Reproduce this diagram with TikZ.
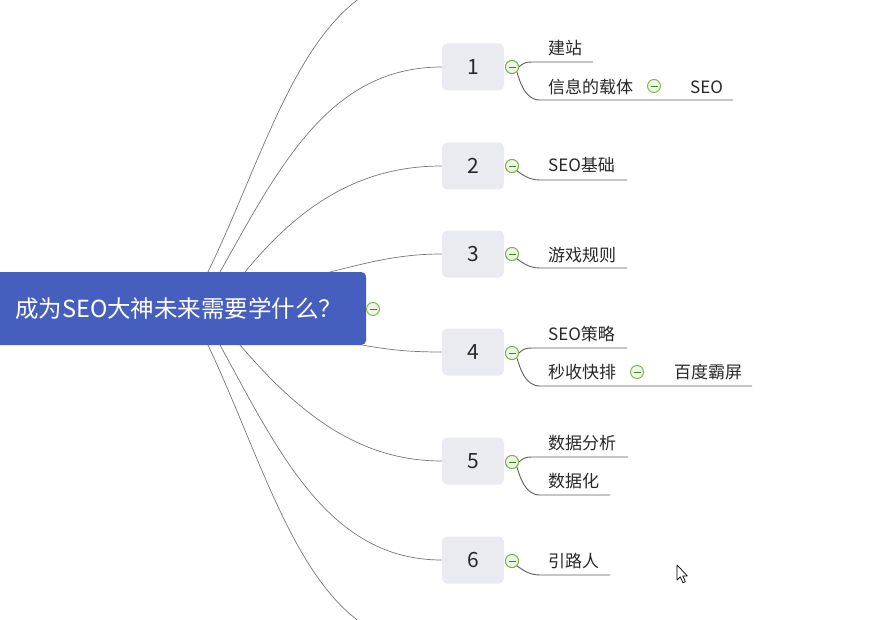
\documentclass[tikz,border=0pt]{standalone}
\usepackage{fontspec}
\setmainfont{Noto Sans CJK SC}
\definecolor{rootblue}{RGB}{70,94,190}
\definecolor{boxgray}{RGB}{234,235,241}
\definecolor{curvegray}{RGB}{120,120,120}
\definecolor{linegray}{RGB}{95,95,95}
\definecolor{togglegreen}{RGB}{120,178,70}
\definecolor{togglefill}{RGB}{238,246,230}
\definecolor{toggledark}{RGB}{70,130,40}
\definecolor{txt}{RGB}{40,40,40}
\begin{document}
\begin{tikzpicture}[x=1pt,y=-1pt,
  rootbox/.style={fill=rootblue,rounded corners=5pt,text=white,font=\fontsize{23.5}{27}\selectfont,
     anchor=west,minimum height=73pt,inner xsep=25pt,text width=326pt,align=left},
  numbox/.style={fill=boxgray,rounded corners=5pt,minimum width=62pt,minimum height=47pt,
     text=txt,font=\fontsize{21}{24}\selectfont},
  leaf/.style={anchor=west,inner sep=0pt,text=txt,font=\fontsize{17}{20}\selectfont},
  toggle/.style={circle,draw=togglegreen,fill=togglefill,line width=0.9pt,minimum size=13pt,inner sep=0pt,
     path picture={\draw[toggledark,line width=0.9pt] ([xshift=-3.5pt]path picture bounding box.center) -- ([xshift=3.5pt]path picture bounding box.center);}},
  mainlink/.style={draw=curvegray,line width=0.7pt},
  sublink/.style={draw=linegray,line width=0.9pt}
]
\useasboundingbox (0,0) rectangle (874,620);
\fill[white] (0,0) rectangle (874,620);

% root
\node[rootbox] (root) at (-10,308.5) {成为SEO大神未来需要学什么？};
\node[toggle] (troot) at (373,309) {};

% number boxes
\node[numbox] (n1) at (473,67) {1};
\node[numbox] (n2) at (473,166) {2};
\node[numbox] (n3) at (473,254) {3};
\node[numbox] (n4) at (473,352) {4};
\node[numbox] (n5) at (473,461) {5};
\node[numbox] (n6) at (473,560) {6};

% root side coordinates
\coordinate (r0) at (208,272);
\coordinate (r1) at (220,272);
\coordinate (r2) at (245,272);
\coordinate (r3) at (330,272);
\coordinate (r4) at (362,345);
\coordinate (r5) at (240,345);
\coordinate (r6) at (220,345);
\coordinate (r7) at (208,345);
\coordinate (topend) at (372,-10);
\coordinate (botend) at (372,630);

\draw[mainlink] (r0) .. controls (262,160) and (295,35) .. (topend);
\draw[mainlink] (r1) .. controls (280,165) and (330,67) .. (n1.west);
\draw[mainlink] (r2) .. controls (300,205) and (360,166) .. (n2.west);
\draw[mainlink] (r3) .. controls (370,262) and (400,254) .. (n3.west);
\draw[mainlink] (r4) .. controls (390,350) and (410,352) .. (n4.west);
\draw[mainlink] (r5) .. controls (300,415) and (360,461) .. (n5.west);
\draw[mainlink] (r6) .. controls (280,455) and (330,560) .. (n6.west);
\draw[mainlink] (r7) .. controls (262,460) and (295,585) .. (botend);

% toggles on number boxes
\node[toggle] (t1) at (512,67) {};
\node[toggle] (t2) at (512,166) {};
\node[toggle] (t3) at (512,254) {};
\node[toggle] (t4) at (512,353) {};
\node[toggle] (t5) at (512,462) {};
\node[toggle] (t6) at (512,561) {};

% leaves
\node[leaf] (a1) at (548,48) {建站};
\node[leaf] (a2) at (548,87) {信息的载体};
\node[toggle] (ta2) at (654,86) {};
\node[leaf] (a3) at (690,87) {SEO};
\node[leaf] (b1) at (548,165) {SEO基础};
\node[leaf] (c1) at (548,255) {游戏规则};
\node[leaf] (d1) at (548,334) {SEO策略};
\node[leaf] (d2) at (548,372) {秒收快排};
\node[toggle] (td2) at (637,372) {};
\node[leaf] (d3) at (674,372) {百度霸屏};
\node[leaf] (e1) at (548,443) {数据分析};
\node[leaf] (e2) at (548,481) {数据化};
\node[leaf] (f1) at (548,561) {引路人};

% underline end coordinates
\coordinate (ua1) at (593,62);
\coordinate (ua2) at (733,100);
\coordinate (ub1) at (627,180);
\coordinate (uc1) at (627,268);
\coordinate (ud1) at (627,348);
\coordinate (ud2) at (752,386);
\coordinate (ue1) at (628,457);
\coordinate (ue2) at (610,495);
\coordinate (uf1) at (610,575);

\draw[sublink] (t1.east) .. controls (523,63) and (526,62) .. (532,62) -- (ua1);
\draw[sublink] (t1.south east) .. controls (520,82) and (525,100) .. (540,100) -- (ua2);
\draw[sublink] (t2.south east) .. controls (522,174) and (528,180) .. (540,180) -- (ub1);
\draw[sublink] (t3.south east) .. controls (522,262) and (528,268) .. (540,268) -- (uc1);
\draw[sublink] (t4.east) .. controls (523,349) and (526,348) .. (532,348) -- (ud1);
\draw[sublink] (t4.south east) .. controls (520,368) and (525,386) .. (540,386) -- (ud2);
\draw[sublink] (t5.east) .. controls (523,458) and (526,457) .. (532,457) -- (ue1);
\draw[sublink] (t5.south east) .. controls (520,477) and (525,495) .. (540,495) -- (ue2);
\draw[sublink] (t6.south east) .. controls (522,569) and (528,575) .. (540,575) -- (uf1);

% redraw toggles on top
\node[toggle] at (t1) {};
\node[toggle] at (t2) {};
\node[toggle] at (t3) {};
\node[toggle] at (t4) {};
\node[toggle] at (t5) {};
\node[toggle] at (t6) {};

% mouse cursor
\coordinate (cur) at (677,565);
\draw[black,fill=white,line width=0.7pt,line join=round]
  (cur) -- ++(0,15) -- ++(3.2,-3.2) -- ++(2.8,6) -- ++(2.4,-1.1) -- ++(-2.7,-5.8) -- ++(4.6,0) -- cycle;
\end{tikzpicture}
\end{document}
